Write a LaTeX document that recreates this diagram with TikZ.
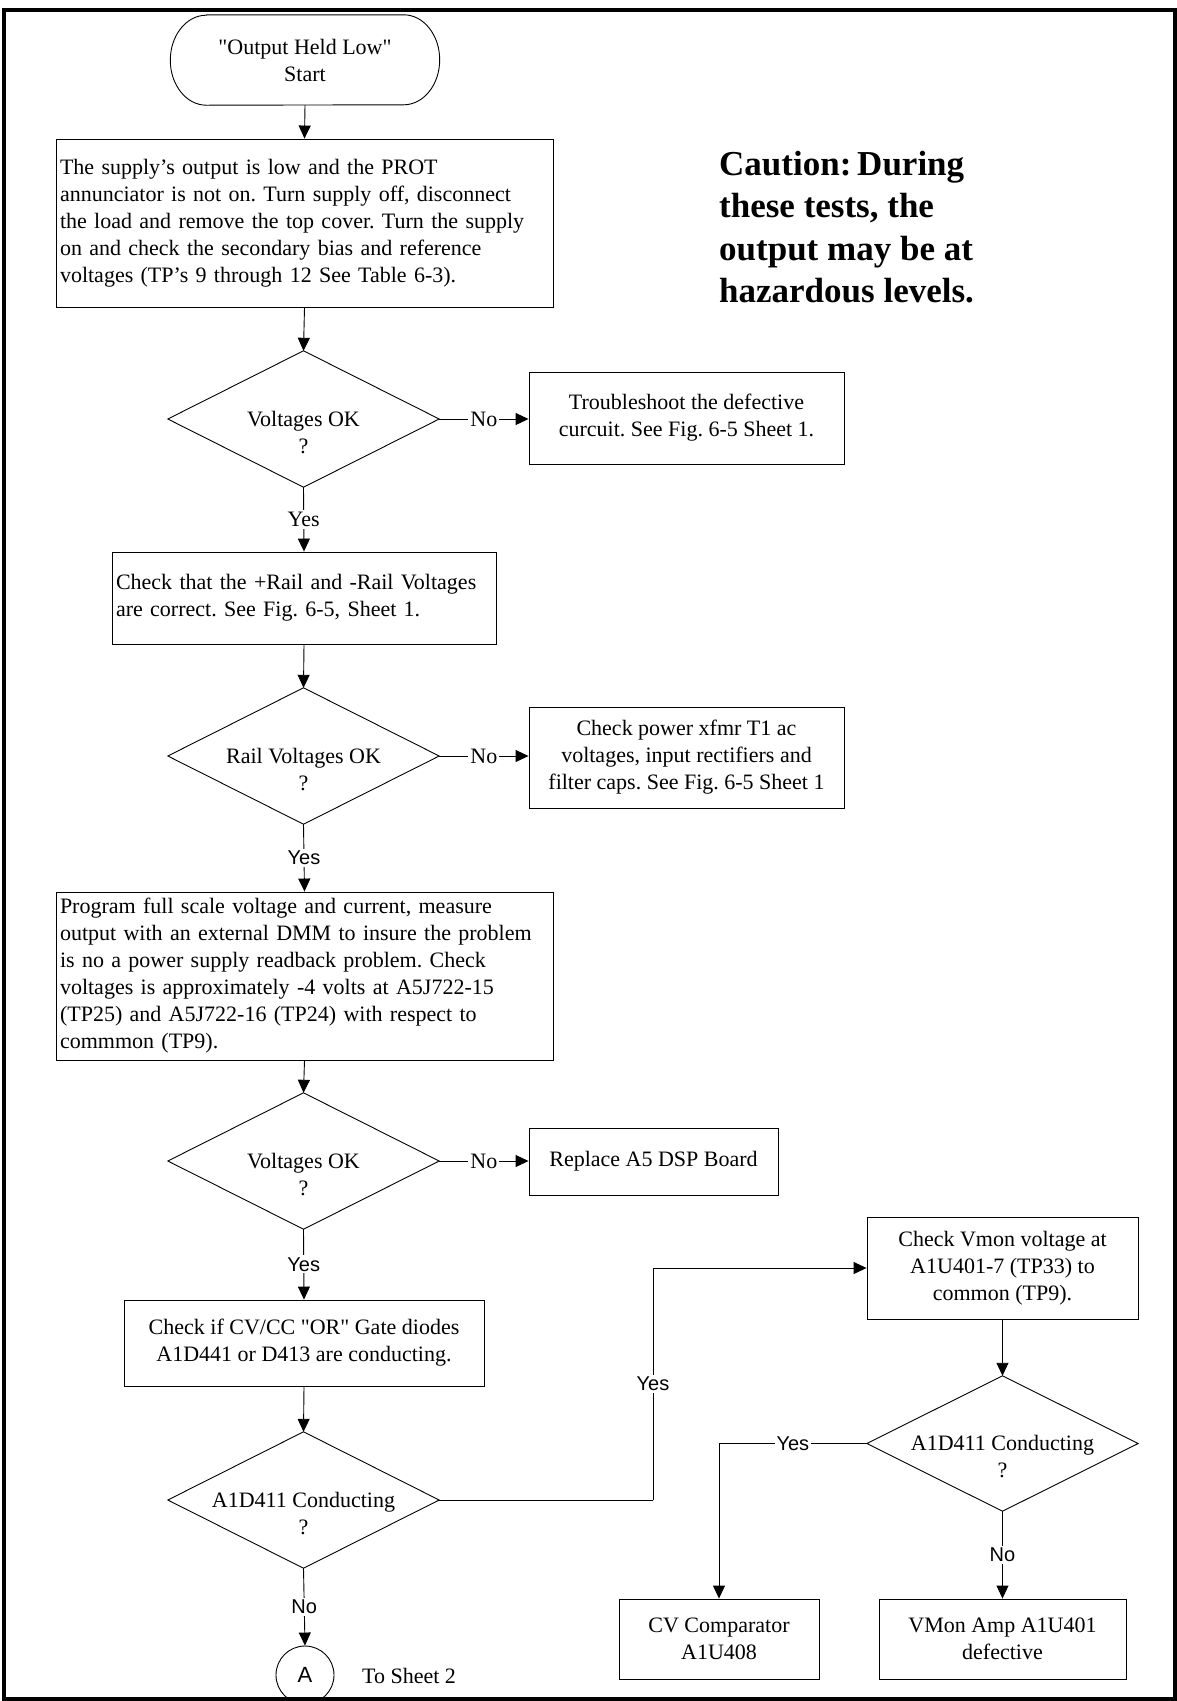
\documentclass[tikz,border=0pt]{standalone}
\usepackage{fontspec}
\setmainfont{Liberation Serif}
\newfontfamily\arialf{Liberation Sans}
\usetikzlibrary{arrows.meta}
\frenchspacing
\begin{document}
\begin{tikzpicture}[x=1pt,y=1pt,
  every node/.style={font=\fontsize{22}{27}\selectfont},
  box/.style={draw, line width=0.9pt, inner sep=4pt, align=center},
  lbox/.style={draw, line width=0.9pt, inner xsep=4pt, inner ysep=2pt, align=left},
  diag/.style={inner sep=0pt, minimum width=271pt, minimum height=136pt},
  dtext/.style={align=center, inner sep=0pt},
  lblserif/.style={fill=white, inner sep=2pt},
  lblsans/.style={fill=white, inner sep=2pt, font=\arialf\fontsize{20}{24}\selectfont},
  conn/.style={line width=0.9pt, -{Triangle[length=13pt,width=12pt]}},
  plain/.style={line width=0.9pt}
]
\useasboundingbox (0,0) rectangle (1177,-1701);
\fill[white] (0,0) rectangle (1177,-1701);
% frame
\draw[line width=3.5pt] (4,-10) rectangle (1175,-1699);

% start terminal
\node[inner sep=0pt, minimum width=269pt, minimum height=90pt, align=center] (start) at (305,-60) {\textquotedbl Output Held Low\textquotedbl\\Start};
\draw[line width=0.9pt] ([xshift=36pt]start.north west) -- ([xshift=-36pt]start.north east)
  arc[start angle=90, end angle=-90, x radius=36pt, y radius=45pt]
  -- ([xshift=36pt]start.south west)
  arc[start angle=270, end angle=90, x radius=36pt, y radius=45pt] -- cycle;

% main column
\node[lbox, minimum width=497pt, minimum height=168pt, text width=489pt] (b1) at (304.5,-223)
 {The supply’s output is low and the PROT\\annunciator is not on. Turn supply off, disconnect\\the load and remove the top cover. Turn the supply\\on and check the secondary bias and reference\\voltages (TP’s 9 through 12 See Table 6-3).};

\node[anchor=west, align=left, inner sep=0pt, font=\bfseries\fontsize{35}{42.5}\selectfont] (caution) at (719,-227)
 {Caution:\,During\\these tests, the\\output may be at\\hazardous levels.};

\node[diag] (d1) at (303.5,-419) {};
\node[dtext] at ([yshift=-13.5pt]d1.center) {Voltages OK\\?};

\node[box, minimum width=315pt, minimum height=92pt] (trb) at (686.5,-418)
 {Troubleshoot the defective\\curcuit. See Fig. 6-5 Sheet 1.};

\node[lbox, minimum width=384pt, minimum height=92pt, text width=376pt] (b2) at (304,-598)
 {Check that the +Rail and -Rail Voltages\\are correct. See Fig. 6-5, Sheet 1.};

\node[diag] (d2) at (303.5,-756) {};
\node[dtext] at ([yshift=-13.5pt]d2.center) {Rail Voltages OK\\?};

\node[box, minimum width=315pt, minimum height=101pt] (xfm) at (686.5,-757.5)
 {Check power xfmr T1 ac\\voltages, input rectifiers and\\filter caps. See Fig. 6-5 Sheet 1};

\node[lbox, minimum width=497pt, minimum height=168pt, text width=489pt] (b3) at (304.5,-976)
 {Program full scale voltage and current, measure\\output with an external DMM to insure the problem\\is no a power supply readback problem. Check\\voltages is approximately -4 volts at A5J722-15\\(TP25) and A5J722-16 (TP24) with respect to\\commmon (TP9).};

\node[diag] (d3) at (303.5,-1161) {};
\node[dtext] at ([yshift=-13.5pt]d3.center) {Voltages OK\\?};

\node[box, minimum width=249pt, minimum height=67pt] (rep) at (653.5,-1161.5) {Replace A5 DSP Board};

\node[box, minimum width=360pt, minimum height=86pt] (b4) at (304,-1343)
 {Check if CV/CC \textquotedbl OR\textquotedbl\ Gate diodes\\A1D441 or D413 are conducting.};

\node[diag] (d4) at (303.5,-1500) {};
\node[dtext] at ([yshift=-13.5pt]d4.center) {A1D411 Conducting\\?};

\node[draw, line width=0.9pt, circle, minimum size=58pt, inner sep=0pt, font=\arialf\fontsize{22}{26}\selectfont] (ca) at (305,-1675) {A};
\node[anchor=west, inner sep=0pt] (sheet) at (362,-1676) {To Sheet 2};

% right column
\node[box, minimum width=271pt, minimum height=102pt] (vm) at (1002.5,-1268)
 {Check Vmon voltage at\\A1U401-7 (TP33) to\\common (TP9).};

\node[diag, minimum height=135pt] (d5) at (1002.5,-1443.5) {};
\node[dtext] at ([yshift=-13.5pt]d5.center) {A1D411 Conducting\\?};

\node[box, minimum width=200pt, minimum height=80pt] (cv) at (719,-1639) {CV Comparator\\A1U408};
\node[box, minimum width=247pt, minimum height=80pt] (va) at (1002.5,-1639) {VMon Amp A1U401\\defective};

% diamonds
\foreach \n in {d1,d2,d3,d4,d5}
  \draw[line width=0.9pt] (\n.west) -- (\n.north) -- (\n.east) -- (\n.south) -- cycle;

% connectors
\draw[conn] (start.south) -- (b1.north);
\draw[conn] (b1.south) -- (d1.north);
\draw[conn] (d1.east) -- node[lblserif]{No} (d1.east -| trb.west);
\draw[conn] (d1.south) -- node[lblserif]{Yes} (b2.north);
\draw[conn] (b2.south) -- (d2.north);
\draw[conn] (d2.east) -- node[lblserif]{No} (d2.east -| xfm.west);
\draw[conn] (d2.south) -- node[lblsans]{Yes} (b3.north);
\draw[conn] (b3.south) -- (d3.north);
\draw[conn] (d3.east) -- node[lblserif]{No} (d3.east -| rep.west);
\draw[conn] (d3.south) -- node[lblsans]{Yes} (b4.north);
\draw[conn] (b4.south) -- (d4.north);
\draw[conn] (d4.south) -- node[lblsans]{No} (ca.north);
\coordinate (j1) at (653,-1500);
\draw[plain] (d4.east) -- (j1);
\draw[conn] (j1) |- node[pos=0.25, lblsans]{Yes} (vm.west);
\draw[conn] (vm.south) -- (d5.north);
\draw[conn] (d5.west) -| node[pos=0.25, lblsans]{Yes} (cv.north);
\draw[conn] (d5.south) -- node[lblsans]{No} (va.north);
\end{tikzpicture}
\end{document}
